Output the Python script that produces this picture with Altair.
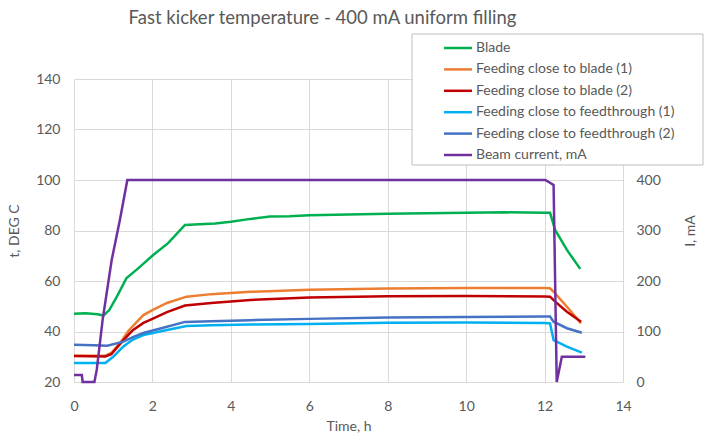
import altair as alt
import pandas as pd

SERIES = ["Blade", "Feeding close to blade (1)", "Feeding close to blade (2)",
          "Feeding close to feedthrough (1)", "Feeding close to feedthrough (2)",
          "Beam current, mA"]
COLORS = ["#00b050", "#ed7d31", "#c00000", "#00b0f0", "#4472c4", "#7030a0"]

blade_t = [0, 0.3, 0.6, 0.75, 0.9, 1.1, 1.34, 1.6, 2.02, 2.4, 2.83, 3.2, 3.6, 4.0, 4.5, 5.0,
           5.5, 6.0, 7.0, 8.0, 9.0, 10.0, 11.0, 12.0, 12.14, 12.27, 12.57, 12.91]
blade_v = [47, 47.2, 46.8, 46.3, 48.5, 54, 61.2, 64.5, 70.3, 75, 82.2, 82.5, 82.8, 83.5, 84.6, 85.5,
           85.6, 86, 86.3, 86.6, 86.8, 87, 87.2, 87, 87, 80.2, 72.3, 64.8]

orange_t = [0, 0.8, 0.95, 1.17, 1.4, 1.77, 2.0, 2.37, 2.87, 3.5, 4.5, 6.0, 8.0, 10.0, 12.0,
            12.14, 12.27, 12.57, 12.93]
orange_v = [30.4, 30.4, 31.5, 35.4, 40.5, 46.5, 48.5, 51.3, 53.8, 54.8, 55.7, 56.5, 57, 57.2, 57.2,
            57.1, 55.1, 49.8, 43.2]

red_t = [0, 0.8, 0.95, 1.26, 1.5, 1.77, 2.0, 2.37, 2.83, 3.5, 4.5, 6.0, 8.0, 10.0, 12.0,
         12.14, 12.27, 12.57, 12.93]
red_v = [30.3, 30.1, 31, 36.6, 40.5, 43.4, 45, 47.7, 50.3, 51.3, 52.5, 53.5, 54, 54.1, 53.9,
         53.8, 51.8, 47.8, 43.9]

lblue_t = [0, 0.8, 1.0, 1.26, 1.5, 1.77, 2.37, 2.87, 3.5, 4.5, 6.0, 8.0, 10.0, 12.0,
           12.14, 12.23, 12.57, 12.95]
lblue_v = [27.5, 27.5, 30, 34.1, 36.8, 38.6, 40.6, 42.2, 42.5, 42.8, 43, 43.5, 43.6, 43.4,
           43.2, 36.6, 34, 31.6]

blue_t = [0, 0.5, 0.85, 1.26, 1.5, 1.77, 2.37, 2.83, 3.5, 4.5, 6.0, 8.0, 10.0, 12.0,
          12.14, 12.23, 12.57, 12.95]
blue_v = [34.8, 34.6, 34.4, 36, 37.8, 39.4, 41.9, 43.8, 44.1, 44.5, 45, 45.5, 45.7, 45.9,
          45.9, 43.9, 41.3, 39.5]

beam_t = [0, 0.2, 0.22, 0.52, 0.58, 0.73, 0.96, 1.17, 1.36, 12.02, 12.23, 12.31, 12.44, 13.04]
beam_v = [14, 14, 0, 0, 24, 123, 241, 321, 400, 400, 390, 0, 50, 50]

TEMP_TICKS = [20, 40, 60, 80, 100, 120, 140]
CURRENT_TICKS = [0, 100, 200, 300, 400]
TIME_TICKS = [0, 2, 4, 6, 8, 10, 12, 14]

temps = [(SERIES[0], blade_t, blade_v), (SERIES[1], orange_t, orange_v),
         (SERIES[2], red_t, red_v), (SERIES[3], lblue_t, lblue_v),
         (SERIES[4], blue_t, blue_v)]

legend = alt.Legend(orient="none", legendX=373, legendY=-42, title=None, padding=0,
                    rowPadding=3.4, labelFont="Lato", labelFontSize=14, labelColor="#595959",
                    labelLimit=400,
                    symbolType="M-1.47,0H1.47", symbolSize=361, symbolStrokeWidth=2.5,
                    labelOffset=7)
color = alt.Color("series:N", scale=alt.Scale(domain=SERIES, range=COLORS), legend=legend)
x_enc = alt.X("t:Q", scale=alt.Scale(domain=[0, 14], nice=False),
              axis=alt.Axis(values=TIME_TICKS, title="Time, h", labelPadding=17, titlePadding=6,
                            labelFlush=False))

temp_layers = []
for name, ts, vs in temps:
    df = pd.DataFrame({"t": ts, "v": vs, "series": name})
    temp_layers.append(
        alt.Chart(df).mark_line(strokeWidth=2.5).encode(
            x=x_enc,
            y=alt.Y("v:Q", scale=alt.Scale(domain=[20, 140], nice=False),
                    axis=alt.Axis(values=TEMP_TICKS, title="t, DEG C", labelPadding=14,
                                  titlePadding=14, labelFlush=False)),
            color=color,
        )
    )
temp_chart = alt.layer(*temp_layers)

beam_df = pd.DataFrame({"t": beam_t, "v": beam_v, "series": SERIES[5]})
beam = alt.Chart(beam_df).mark_line(strokeWidth=2.5).encode(
    x=x_enc,
    y=alt.Y("v:Q", scale=alt.Scale(domain=[0, 600], nice=False),
            axis=alt.Axis(orient="right", values=CURRENT_TICKS, title="I, mA", grid=False,
                          labelPadding=13, titlePadding=37, titleAngle=270, labelFlush=False)),
    color=color,
)

box = alt.Chart(pd.DataFrame({"d": [0]})).mark_rect(
    fill="white", stroke="#bfbfbf", strokeWidth=1
).encode(x=alt.value(338), x2=alt.value(629), y=alt.value(-45), y2=alt.value(86))

chart = alt.layer(temp_chart, beam, box).resolve_scale(y="independent").properties(
    width=549, height=303,
    autosize="none",
    padding={"left": 74, "top": 79, "right": 84, "bottom": 57},
    title=alt.TitleParams("Fast kicker temperature - 400 mA uniform filling", dx=-26, offset=6),
).configure_axis(
    labelFont="Lato", labelFontSize=14, labelColor="#595959",
    titleFont="Lato", titleFontSize=14, titleColor="#595959", titleFontWeight="normal",
    domain=False, ticks=False, gridColor="#d9d9d9", gridWidth=1,
).configure_title(
    font="Lato", fontSize=18.5, color="#595959", fontWeight="normal"
).configure_view(stroke=None)

chart.save("out.html", embed_options={"renderer": "svg", "actions": False})
